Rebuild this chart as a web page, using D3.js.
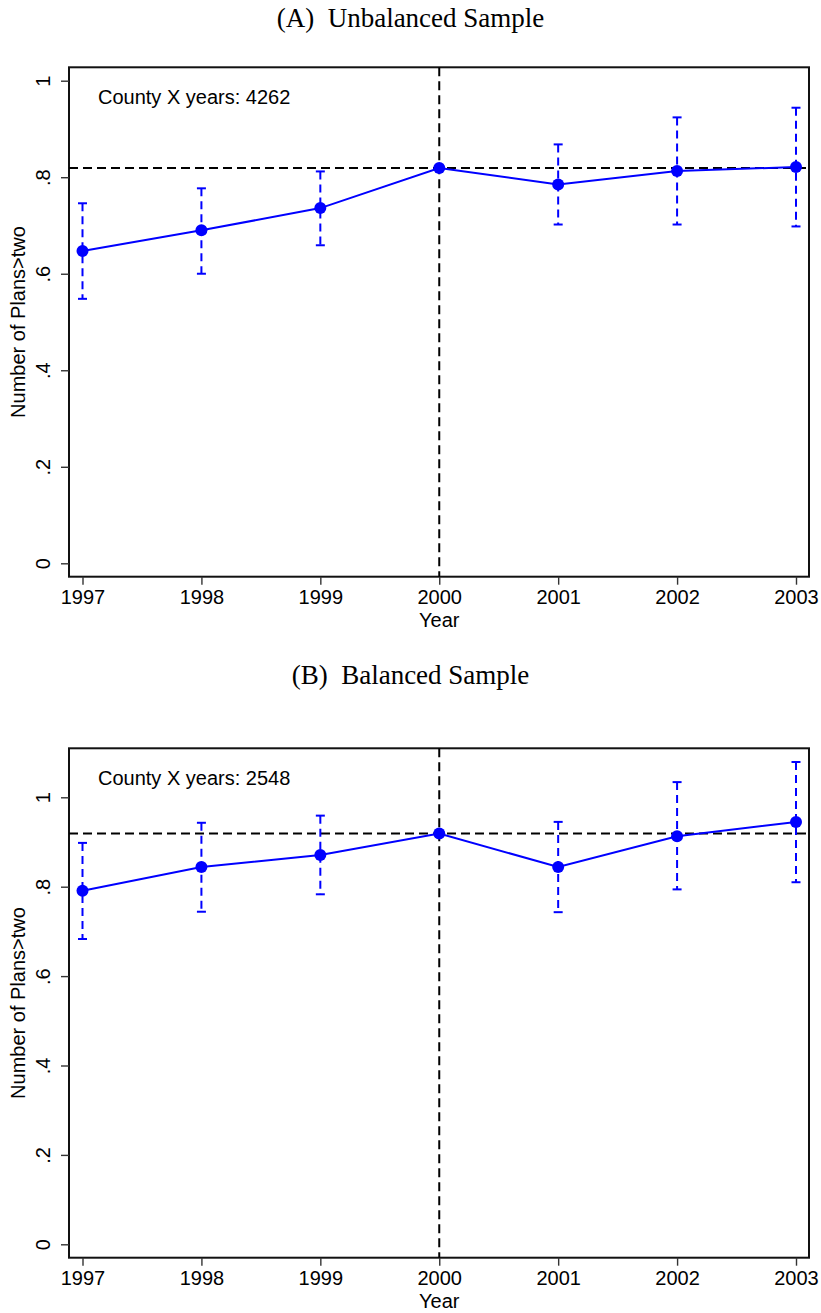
<!DOCTYPE html>
<html>
<head>
<meta charset="utf-8">
<script src="https://cdn.jsdelivr.net/npm/d3@7"></script>
<style>
  body { margin: 0; background: #fff; }
  svg { display: block; }
</style>
</head>
<body>
<div id="event_study_chart"></div>
<script>
// event study estimates

var years = [1997, 1998, 1999, 2000, 2001, 2002, 2003];
var event_year = 2000;

var y_ticks = [0, 0.2, 0.4, 0.6, 0.8, 1];
var y_tick_labels = ["0", ".2", ".4", ".6", ".8", "1"];

// (A) unbalanced sample
var coef_A = [0.647, 0.690, 0.736, 0.819, 0.785, 0.813, 0.821];
var low_A  = [0.548, 0.600, 0.659, null, 0.702, 0.702, 0.698];
var high_A = [0.746, 0.777, 0.812, null, 0.868, 0.924, 0.944];
var ref_A = 0.819;

// (B) balanced sample
var coef_B = [0.791, 0.844, 0.871, 0.919, 0.844, 0.913, 0.945];
var low_B  = [0.683, 0.744, 0.783, null, 0.743, 0.794, 0.810];
var high_B = [0.898, 0.943, 0.959, null, 0.945, 1.034, 1.079];
var ref_B = 0.919;

var panel_titles = ["(A)\u2002Unbalanced Sample", "(B)\u2002Balanced Sample"];
var count_labels = ["County X years: 4262", "County X years: 2548"];
var y_title = "Number of Plans>two";
var x_title = "Year";

var width = 821,
    height = 1313,
    frame_left = 69,
    frame_right = 809,
    sans = "'Liberation Sans', Arial, Helvetica, sans-serif",
    serif = "'Liberation Serif', 'Times New Roman', serif",
    blue = "#0000ff";

var svg = d3.select("#event_study_chart")
  .append("svg")
  .attr("width", width)
  .attr("height", height);

var x_scale = d3.scaleLinear()
  .domain([years[0], years[years.length - 1]])
  .range([82.5, 796]);

function draw_panel(p) {
  var y_scale = d3.scaleLinear()
    .domain([0, 1])
    .range([p.zero_y, p.one_y]);

  var rows = years.map(function(yr, i) {
    return { year: yr, coef: p.coef[i], low: p.low[i], high: p.high[i] };
  });

  var g = svg.append("g");

  // panel title
  g.append("text")
    .attr("x", width / 2)
    .attr("y", p.title_y)
    .attr("text-anchor", "middle")
    .style("font-family", serif)
    .style("font-size", "27px")
    .text(p.title);

  // frame
  g.append("rect")
    .attr("x", frame_left)
    .attr("y", p.frame_top)
    .attr("width", frame_right - frame_left)
    .attr("height", p.frame_bottom - p.frame_top)
    .attr("fill", "none")
    .attr("stroke", "#111")
    .attr("stroke-width", 2);

  // y axis
  var y_axis = g.append("g")
    .attr("transform", "translate(" + frame_left + ",0)")
    .call(d3.axisLeft(y_scale)
      .tickValues(y_ticks)
      .tickSize(8)
      .tickFormat(function(d, i) { return y_tick_labels[i]; }));
  y_axis.select(".domain").remove();
  y_axis.selectAll(".tick line").attr("stroke", "#333").attr("stroke-width", 1.4);
  y_axis.selectAll(".tick text")
    .attr("transform", "rotate(-90)")
    .attr("x", 0)
    .attr("y", -26)
    .attr("dy", "0.35em")
    .attr("text-anchor", "middle")
    .style("font-family", sans)
    .style("font-size", "20px")
    .attr("fill", "#000");

  // x axis
  var x_axis = g.append("g")
    .attr("transform", "translate(0," + p.frame_bottom + ")")
    .call(d3.axisBottom(x_scale)
      .tickValues(years)
      .tickSize(8)
      .tickFormat(d3.format("d")));
  x_axis.select(".domain").remove();
  x_axis.selectAll(".tick line").attr("stroke", "#333").attr("stroke-width", 1.4);
  x_axis.selectAll(".tick text")
    .attr("y", 13)
    .style("font-family", sans)
    .style("font-size", "20px")
    .attr("fill", "#000");

  // axis titles
  g.append("text")
    .attr("transform", "translate(18," + ((p.frame_top + p.frame_bottom) / 2) + ") rotate(-90)")
    .attr("dy", "0.35em")
    .attr("text-anchor", "middle")
    .style("font-family", sans)
    .style("font-size", "20px")
    .text(y_title);

  g.append("text")
    .attr("x", x_scale(event_year))
    .attr("y", p.frame_bottom + 50)
    .attr("text-anchor", "middle")
    .style("font-family", sans)
    .style("font-size", "20px")
    .text(x_title);

  // reference lines
  g.append("line")
    .attr("x1", frame_left)
    .attr("x2", frame_right)
    .attr("y1", y_scale(p.ref))
    .attr("y2", y_scale(p.ref))
    .attr("stroke", "#000")
    .attr("stroke-width", 2)
    .style("stroke-dasharray", "9, 5");

  g.append("line")
    .attr("x1", x_scale(event_year))
    .attr("x2", x_scale(event_year))
    .attr("y1", p.frame_top)
    .attr("y2", p.frame_bottom)
    .attr("stroke", "#000")
    .attr("stroke-width", 2)
    .style("stroke-dasharray", "9, 5");

  // confidence intervals
  var ci = rows.filter(function(d) { return d.low !== null; });

  g.selectAll("ci_bar")
    .data(ci)
    .enter()
    .append("line")
    .attr("x1", function(d) { return x_scale(d.year); })
    .attr("x2", function(d) { return x_scale(d.year); })
    .attr("y1", function(d) { return y_scale(d.high); })
    .attr("y2", function(d) { return y_scale(d.low); })
    .attr("stroke", blue)
    .attr("stroke-width", 2)
    .style("stroke-dasharray", "8, 5");

  ["low", "high"].forEach(function(k) {
    g.selectAll("ci_cap")
      .data(ci)
      .enter()
      .append("line")
      .attr("x1", function(d) { return x_scale(d.year) - 4.5; })
      .attr("x2", function(d) { return x_scale(d.year) + 4.5; })
      .attr("y1", function(d) { return y_scale(d[k]); })
      .attr("y2", function(d) { return y_scale(d[k]); })
      .attr("stroke", blue)
      .attr("stroke-width", 2);
  });

  // point estimates
  g.append("path")
    .datum(rows)
    .attr("fill", "none")
    .attr("stroke", blue)
    .attr("stroke-width", 2)
    .attr("d", d3.line()
      .x(function(d) { return x_scale(d.year); })
      .y(function(d) { return y_scale(d.coef); }));

  g.selectAll("dot")
    .data(rows)
    .enter()
    .append("circle")
    .attr("cx", function(d) { return x_scale(d.year); })
    .attr("cy", function(d) { return y_scale(d.coef); })
    .attr("r", 6)
    .attr("fill", blue);

  g.append("text")
    .attr("x", 98)
    .attr("y", p.frame_top + 37)
    .style("font-family", sans)
    .style("font-size", "20px")
    .text(p.count);
}

draw_panel({
  title: panel_titles[0], title_y: 27, count: count_labels[0],
  frame_top: 67.3, frame_bottom: 576.7, zero_y: 563.3, one_y: 80.7,
  coef: coef_A, low: low_A, high: high_A, ref: ref_A
});

draw_panel({
  title: panel_titles[1], title_y: 684, count: count_labels[1],
  frame_top: 748.3, frame_bottom: 1257.7, zero_y: 1244.3, one_y: 797.3,
  coef: coef_B, low: low_B, high: high_B, ref: ref_B
});
</script>
</body>
</html>
